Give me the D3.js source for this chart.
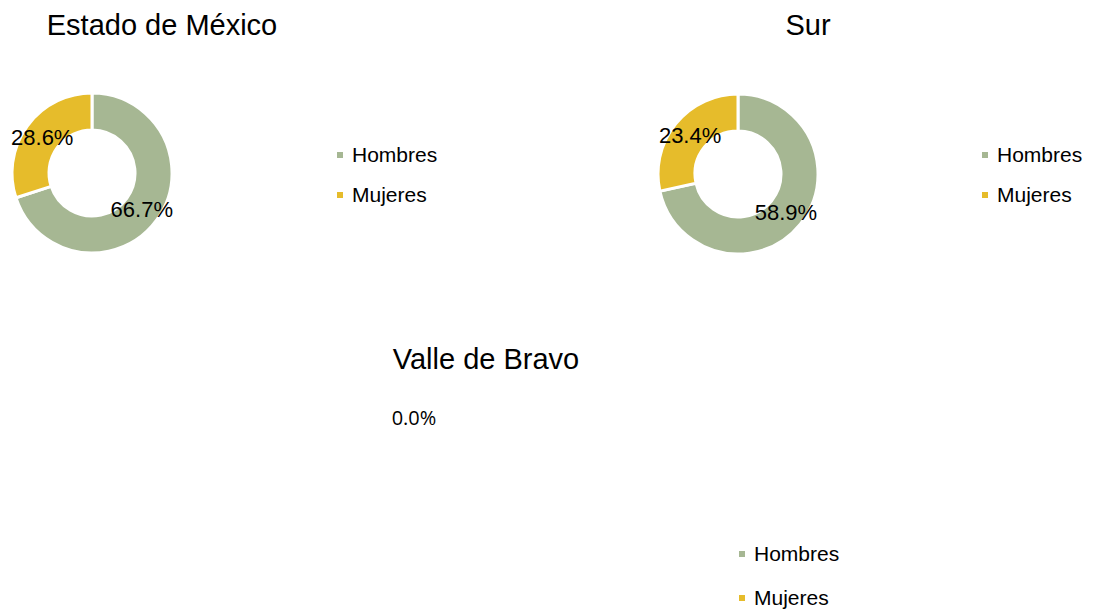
<!DOCTYPE html>
<html>
<head>
<meta charset="utf-8">
<script src="https://cdn.jsdelivr.net/npm/d3@7"></script>
<style>
  body { margin: 0; background: #fff; }
  text { font-family: "Liberation Sans", Arial, sans-serif; }
</style>
</head>
<body>
<script>
// Data
const categories = ['Hombres', 'Mujeres'];
const regions = ['Estado de México', 'Sur', 'Valle de Bravo'];
const hombres = [66.7, 58.9, 0];
const mujeres = [28.6, 23.4, 0];
const colors = ['#a6b793', '#e6bc2b'];

let width = 1093,
    height = 610;

let svg = d3.select('body')
  .append('svg')
    .attr('width', width)
    .attr('height', height);

// panel layout
let panels = [
  { title: [162, 35], center: [92, 173], legend: [337, 152], gap: 40 },
  { title: [808, 35], center: [738, 174], legend: [982, 152], gap: 40 },
  { title: [486, 369], center: [414, 418], legend: [739, 551], gap: 44 }
];

let color = d3.scaleOrdinal().domain(categories).range(colors);

let pie = d3.pie().sort(null).value(d => d.value);
let arc = d3.arc().innerRadius(43).outerRadius(80);

regions.forEach(function(name, i) {
  let p = panels[i];
  let data = [
    { key: 'Hombres', value: hombres[i] },
    { key: 'Mujeres', value: mujeres[i] }
  ];

  svg.append('text')
    .attr('x', p.title[0])
    .attr('y', p.title[1])
    .attr('text-anchor', 'middle')
    .style('font-size', '29px')
    .style('fill', '#000')
    .text(name);

  let g = svg.append('g')
    .attr('transform', `translate(${p.center[0]},${p.center[1]})`);

  let total = d3.sum(data, d => d.value);

  if (total > 0) {
    let arcs = pie(data);
    g.selectAll('path')
      .data(arcs)
      .enter()
      .append('path')
        .attr('d', arc)
        .attr('fill', d => color(d.data.key))
        .attr('stroke', '#fff')
        .attr('stroke-width', 3);

    // labels in the middle of the ring
    g.selectAll('.lbl')
      .data(arcs)
      .enter()
      .append('text')
        .attr('class', 'lbl')
        .attr('transform', d => `translate(${arc.centroid(d)})`)
        .attr('dy', '0.35em')
        .attr('text-anchor', 'middle')
        .style('font-size', '22px')
        .style('fill', '#000')
        .text(d => d3.format('.1f')(d.data.value) + '%');
  } else {
    g.append('text')
      .attr('x', 0)
      .attr('y', 7)
      .attr('text-anchor', 'middle')
      .style('font-family', '"Open Sans", "Noto Sans", sans-serif')
      .style('font-size', '20px')
      .style('fill', '#000')
      .text(d3.format('.1f')(total) + '%');
  }

  // legend
  let lg = svg.append('g')
    .attr('transform', `translate(${p.legend[0]},${p.legend[1]})`);
  let item = lg.selectAll('g')
    .data(categories)
    .enter()
    .append('g')
      .attr('transform', (d, j) => `translate(0,${j * p.gap})`);
  item.append('rect')
    .attr('width', 6)
    .attr('height', 6)
    .attr('fill', d => color(d));
  item.append('text')
    .attr('x', 15)
    .attr('y', 10)
    .style('font-size', '21px')
    .style('fill', '#000')
    .text(d => d);
});
</script>
</body>
</html>
